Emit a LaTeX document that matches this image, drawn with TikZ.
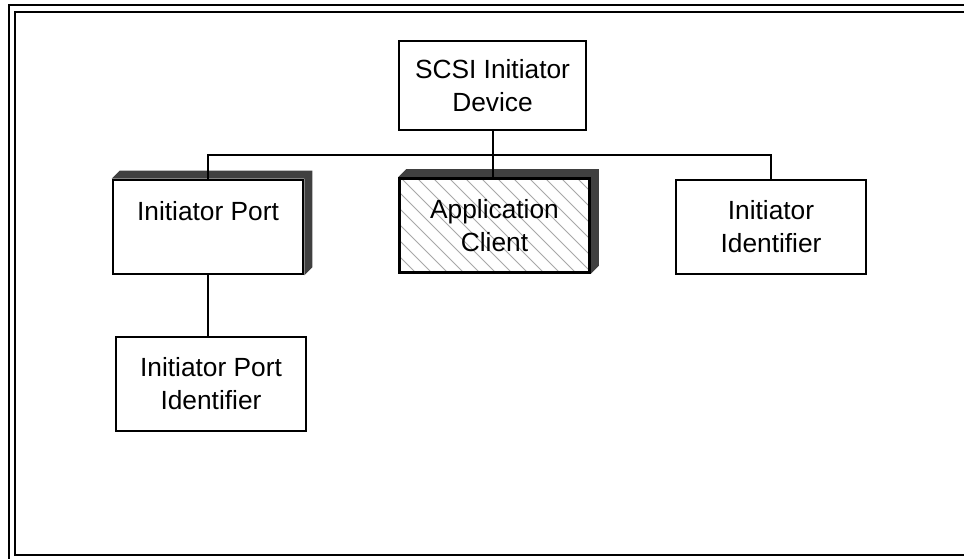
\documentclass[tikz,border=0pt]{standalone}
\usepackage{fontspec}
\setmainfont{Liberation Sans}
\usetikzlibrary{backgrounds,calc}
\definecolor{shadowc}{HTML}{404040}
\definecolor{hatchc}{HTML}{A8A8A8}
\tikzset{
  box/.style={draw=black, line width=2.6pt, fill=white, rectangle, inner sep=0pt,
    minimum width=190pt, minimum height=94pt, align=center,
    font=\fontsize{26.3}{33}\selectfont},
  link/.style={draw=black, line width=2pt},
  frame/.style={draw=black, line width=2.6pt},
  shadowfill/.style={fill=shadowc},
  hatch/.style={draw=hatchc, line width=0.8pt}
}
\begin{document}
\begin{tikzpicture}[x=1pt,y=-1pt]
\useasboundingbox (0,0) rectangle (964,558);
% outer double frame
\draw[frame] (9,560) -- (9,5) -- (970,5);
\draw[frame] (970,555) -- (15,555) -- (15,12) -- (970,12);
% nodes
\node[box, minimum width=187pt, minimum height=89pt] (dev) at (492.5,85.5) {SCSI Initiator\\Device};
\node[box] (port) at (208,227) {Initiator Port\\\mbox{}};
\node[box, fill=none] (app) at (494.5,225.5) {Application\\Client};
\node[box] (iid) at (771,227) {Initiator\\Identifier};
\node[box] (pid) at (211,384) {Initiator Port\\Identifier};
\coordinate (bus) at (494,155);
% shadows and hatching
\begin{scope}[on background layer]
  \fill[shadowfill] (port.north west) -- ++(8,-8) -- ($(port.north east)+(8,-8)$)
     -- ($(port.south east)+(8,-8)$) -- (port.south east) -- (port.north east) -- cycle;
  \fill[shadowfill] (app.north west) -- ++(8,-8) -- ($(app.north east)+(8,-8)$)
     -- ($(app.south east)+(8,-8)$) -- (app.south east) -- (app.north east) -- cycle;
  \fill[white] (app.north west) rectangle (app.south east);
  \begin{scope}
    \clip (app.north west) rectangle (app.south east);
    \foreach \i in {-126,-110,...,220} {
      \draw[hatch] ($(app.north west)+(\i,0)$) -- ++(110,110);
    }
  \end{scope}
\end{scope}
% connectors
\draw[link] (dev.south) -- (dev.south |- bus);
\draw[link] (app.north -| dev.south) -- (dev.south |- bus);
\draw[link] (port.north) |- (bus) -| (iid.north);
\draw[link] (port.south) -- (pid.north -| port.south);
\end{tikzpicture}
\end{document}
